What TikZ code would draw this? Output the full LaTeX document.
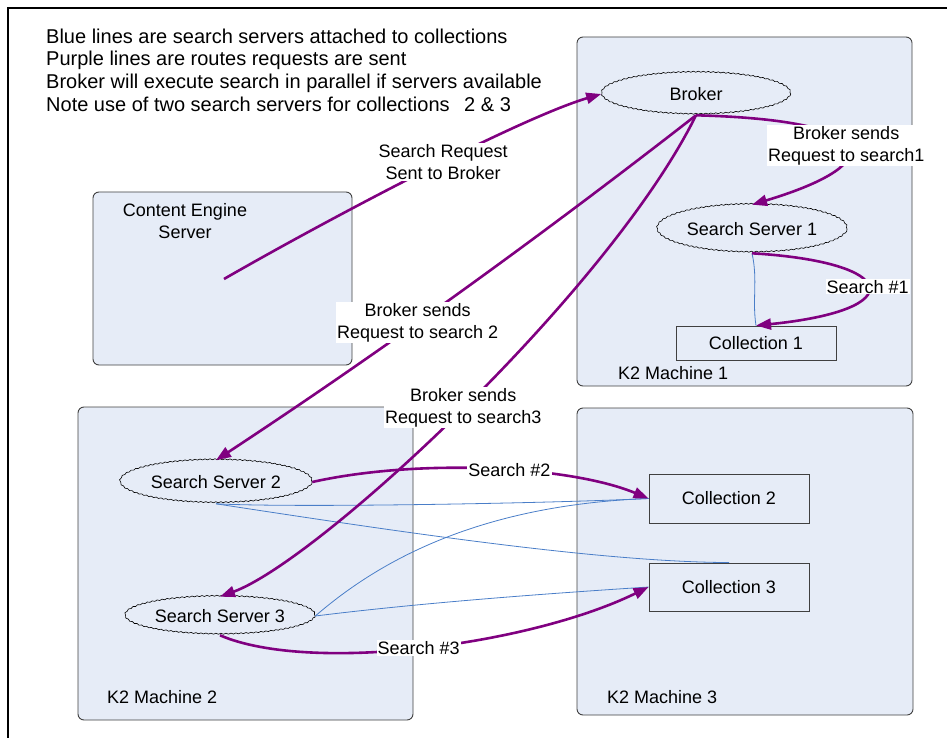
\documentclass[tikz,border=0pt]{standalone}
\usepackage{fontspec}
\setmainfont{Liberation Sans}
\usepackage{tikz}
\usetikzlibrary{arrows.meta,positioning,shapes.geometric,decorations.pathmorphing}
\definecolor{boxfill}{HTML}{E6ECF7}
\definecolor{boxedge}{HTML}{404040}
\definecolor{routepurple}{HTML}{800080}
\definecolor{linkblue}{HTML}{4A7EC8}
\tikzset{
  machinebox/.style={rectangle,rounded corners=6pt,draw=boxedge,line width=0.9pt,
    fill=boxfill,inner sep=0pt},
  cloudnode/.style={ellipse,draw=black,line width=0.6pt,fill=boxfill,inner sep=0pt,
    font=\fontsize{18}{22}\selectfont,decorate,
    decoration={snake,segment length=5pt,amplitude=0.5pt}},
  collbox/.style={rectangle,draw=boxedge,line width=0.9pt,fill=boxfill,
    font=\fontsize{18}{22}\selectfont,minimum width=160pt,inner sep=0pt},
  reqarr/.style={-{Triangle[length=15pt,width=11pt]},line width=2.6pt,color=routepurple},
  linkline/.style={line width=0.8pt,color=linkblue},
  reqlabel/.style={fill=white,text=black,align=center,font=\fontsize{18}{22}\selectfont,
    inner sep=1pt},
  plaintext/.style={font=\fontsize{18}{22}\selectfont,inner sep=0pt,align=center},
}

\begin{document}
\begin{tikzpicture}[x=1pt,y=-1pt]
  \useasboundingbox (0,0) rectangle (947,738);
  \draw[line width=1.4pt] (8,738) -- (8,8) -- (947,8);

  \node[plaintext,anchor=north west,align=left,font=\fontsize{20}{22.7}\selectfont] (notes) at (46,28.5)
    {Blue lines are search servers attached to collections\\
     Purple lines are routes requests are sent\\
     Broker will execute search in parallel if servers available\\
     Note use of two search servers for collections\hspace{9pt} 2 \& 3};

  % machines
  \node[machinebox,minimum width=335pt,minimum height=349pt] (m1) at (744.5,211.5) {};
  \node[machinebox,minimum width=259pt,minimum height=173pt] (ce) at (222.5,278.5) {};
  \node[machinebox,minimum width=335pt,minimum height=313pt] (m2) at (245.5,563.5) {};
  \node[machinebox,minimum width=336pt,minimum height=307pt] (m3) at (745,561.5) {};
  \node[plaintext] (cetext) at (185,221) {Content Engine\\Server};
  \node[plaintext,anchor=west] (m1text) at (618,373) {K2 Machine 1};
  \node[plaintext,anchor=west] (m2text) at (107,697) {K2 Machine 2};
  \node[plaintext,anchor=west] (m3text) at (607,697) {K2 Machine 3};
  \coordinate (ceOut) at (224,279);

  % servers and collections
  \node[cloudnode,minimum width=189pt,minimum height=42pt] (broker) at (696,94) {Broker};
  \node[cloudnode,minimum width=190pt,minimum height=48pt] (ss1) at (752,229) {Search Server 1};
  \node[cloudnode,minimum width=192pt,minimum height=43pt] (ss2) at (216,482) {Search Server 2};
  \node[cloudnode,minimum width=190pt,minimum height=38pt] (ss3) at (220,616) {Search Server 3};
  \node[collbox,minimum height=34pt] (col1) at (756,343) {Collection 1};
  \node[collbox,minimum height=49pt] (col2) at (729,498.5) {Collection 2};
  \node[collbox,minimum height=48pt] (col3) at (729,587) {Collection 3};

  % blue: attachments
  \draw[linkline] (ss1.south) .. controls (758,280) and (752,300) .. (col1.north);
  \draw[linkline] (ss2.south) .. controls (300,508) and (560,503) .. (col2.west);
  \draw[linkline] (ss2.south) .. controls (400,532) and (600,562) .. (col3.north);
  \draw[linkline] (ss3.east) .. controls (380,560) and (480,505) .. (col2.west);
  \draw[linkline] (ss3.east) .. controls (420,603) and (540,594) .. (col3.west);

  % purple: request routes
  \draw[reqarr] (ceOut) .. controls (330,218) and (520,118) .. (broker.west)
    node[reqlabel,pos=0.55]{Search Request\\Sent to Broker};
  \draw[reqarr] (broker.south) .. controls (880,120) and (894,162) .. (ss1.north)
    node[reqlabel,pos=0.5]{Broker sends\\Request to search1};
  \draw[reqarr] (broker.south) .. controls (536,240) and (376,355) .. (ss2.north)
    node[reqlabel,pos=0.58]{Broker sends\\Request to search 2};
  \draw[reqarr] (broker.south) .. controls (610,290) and (320,560) .. (ss3.north)
    node[reqlabel,pos=0.5]{Broker sends\\Request to search3};
  \draw[reqarr] (ss1.south) .. controls (900,262) and (911,310) .. (col1.north)
    node[reqlabel,pos=0.5]{Search \#1};
  \draw[reqarr] (ss2.east) .. controls (420,458) and (570,466) .. (col2.west)
    node[reqlabel,pos=0.55]{Search \#2};
  \draw[reqarr] (ss3.south) .. controls (310,674) and (530,645) .. (col3.west)
    node[reqlabel,pos=0.49]{Search \#3};
\end{tikzpicture}
\end{document}
